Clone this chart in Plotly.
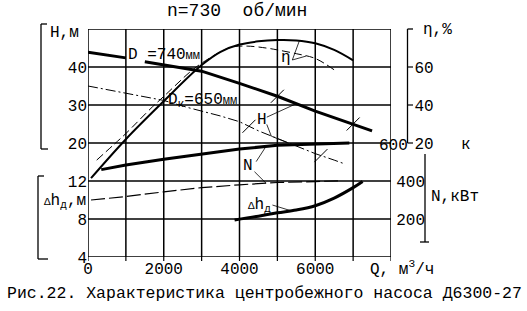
import numpy as np
import plotly.graph_objects as go

# ---------------- data ----------------
# Head, D = 740 mm (gap where the label sits)
q_h740 = [0, 1000, None, 1500, 2000, 3000, 4000, 5000, 6000, 7000, 7500]
h740 = [43.9, 42.4, None, 41.4, 40.6, 38.9, 35.7, 32.3, 28.4, 25.0, 23.2]

# Head, Dk = 650 mm
q_h650 = [0, 1000, 2000, 2650, 3000, 3500, 4000, 4500, 5000, 5500, 6000, 6500, 6750]
h650 = [35.0, 33.1, 31.2, 29.3, 28.4, 27.1, 25.6, 23.2, 21.2, 19.1, 17.2, 15.5, 14.6]

# Efficiency, D = 740 mm
q_eta740 = [80, 1000, 2000, 3000, 3500, 4000, 4500, 5000, 5500, 6000, 6500, 7000]
eta740 = [1.5, 22.0, 42.0, 61.0, 68.0, 71.8, 73.5, 74.2, 74.0, 72.5, 69.0, 63.5]

# Efficiency, Dk = 650 mm
q_eta650 = [230, 700, 1000, 1700, 2000, 2700, 3000, 3500, 3800, 4200, 4700, 5000, 5500, 6000, 6500]
eta650 = [11.0, 19.5, 25.0, 39.0, 44.5, 57.5, 62.0, 68.0, 70.5, 71.0, 70.0, 69.0, 67.0, 64.5, 58.5]

# Power, D = 740 mm
q_n740 = [350, 1000, 2000, 3000, 4000, 5000, 6000, 6900]
n740 = [460, 484, 514, 542, 568, 588, 596, 600]

# Power, Dk = 650 mm
q_n650 = [80, 1000, 2000, 3000, 4000, 5000, 6000, 6600]
n650 = [300, 318, 343, 365, 380, 392, 397, 401]

# NPSH (delta h)
q_dh = [3870, 4500, 5000, 5500, 6000, 6500, 7000, 7250]
dh = [7.9, 8.3, 8.65, 8.95, 9.4, 10.2, 11.3, 11.95]

# ticks
x_tickvals = [0, 1000, 2000, 3000, 4000, 5000, 6000, 7000, 8000]
x_ticktext = ["0", "", "2000", "", "4000", "", "6000", "", ""]
h_tickvals = [-10, 0, 10, 20, 30, 40, 50]
h_ticktext = ["", "", "", "20", "30", "40", ""]
dh_tickvals = [4, 8, 12]
eta_tickvals = [20, 40, 60]
n_tickvals = [200, 400]

# working-range marks on head curves (Q values)
marks_h740 = [5000, 7000]
marks_h650 = [4250, 6150]

# ---------------- helpers ----------------
W, Hh = 527, 311
FONT = "Liberation Mono"


def P(x, y):
    return x / W, 1 - y / Hh


def interp(qs, vs, q):
    pairs = [(a, b) for a, b in zip(qs, vs) if a is not None]
    return float(np.interp(q, [p[0] for p in pairs], [p[1] for p in pairs]))


fig = go.Figure()
blk = "black"

fig.add_trace(go.Scatter(x=q_h740, y=h740, mode="lines", line=dict(color=blk, width=3),
                         connectgaps=False, yaxis="y", hoverinfo="skip"))
fig.add_trace(go.Scatter(x=q_h650, y=h650, mode="lines",
                         line=dict(color=blk, width=1, dash="10px,3px,2px,3px"), yaxis="y", hoverinfo="skip"))
fig.add_trace(go.Scatter(x=q_eta740, y=eta740, mode="lines", line=dict(color=blk, width=2, shape="spline"),
                         yaxis="y3", hoverinfo="skip"))
fig.add_trace(go.Scatter(x=q_eta650, y=eta650, mode="lines",
                         line=dict(color=blk, width=1, dash="8px,4px", shape="spline"), yaxis="y3", hoverinfo="skip"))
fig.add_trace(go.Scatter(x=q_n740, y=n740, mode="lines", line=dict(color=blk, width=3), yaxis="y4", hoverinfo="skip"))
fig.add_trace(go.Scatter(x=q_n650, y=n650, mode="lines", line=dict(color=blk, width=1.2, dash="14px,4px"),
                         yaxis="y4", hoverinfo="skip"))
fig.add_trace(go.Scatter(x=q_dh, y=dh, mode="lines", line=dict(color=blk, width=3, shape="spline"),
                         yaxis="y2", hoverinfo="skip"))

# slash marks on head curves
for qs, vs, mk in ((q_h740, h740, marks_h740), (q_h650, h650, marks_h650)):
    fig.add_trace(go.Scatter(x=mk, y=[interp(qs, vs, q) for q in mk], mode="markers",
                             marker=dict(symbol="line-ne-open", size=13, color=blk,
                                         line=dict(color=blk, width=1)),
                             yaxis="y", hoverinfo="skip"))

# leader lines (label point -> point on curve)
leaders = [
    ("y", [(4720, 26.8)], q_h740, h740, 5500),
    ("y", [(4720, 24.9), (4840, 21.8)], q_h650, h650, 5300),
    ("y3", [(5395, 63.7)], q_eta740, eta740, 5580),
    ("y3", [(5395, 63.7)], q_eta650, eta650, 5755),
    ("y4", [(4440, 502)], q_n740, n740, 4700),
    ("y4", [(4395, 449)], q_n650, n650, 4700),
    ("y2", [(4870, 9.47)], q_dh, dh, 5360),
]
for ax, pts, cq, cv, tq in leaders:
    xs = [p[0] for p in pts] + [tq]
    ys = [p[1] for p in pts] + [interp(cq, cv, tq)]
    fig.add_trace(go.Scatter(x=xs, y=ys, mode="lines", line=dict(color=blk, width=0.8),
                             yaxis=ax, hoverinfo="skip"))

# ---------------- layout ----------------
xd = [88 / W, 391 / W]
yd = [1 - 257 / Hh, 1 - 29 / Hh]
tf = dict(family=FONT, size=16, color=blk)

fig.update_layout(
    width=W, height=Hh, margin=dict(l=0, r=0, t=0, b=0),
    paper_bgcolor="white", plot_bgcolor="white", showlegend=False,
    xaxis=dict(domain=xd, range=[0, 8000], tickvals=x_tickvals, ticktext=x_ticktext,
               showgrid=False, showline=False, ticks="", tickfont=tf, zeroline=False,
               automargin=False),
    yaxis=dict(domain=yd, range=[-10, 50], tickvals=h_tickvals, ticktext=h_ticktext,
               showgrid=False, showline=False, ticks="", tickfont=tf, zeroline=False,
               automargin=False),
    yaxis2=dict(overlaying="y", side="left", anchor="x", range=[4, 28], tickvals=dh_tickvals,
                showgrid=False, showline=False, ticks="", tickfont=tf, zeroline=False,
                automargin=False),
    yaxis3=dict(overlaying="y", side="right", anchor="free", position=407.5 / W, range=[-40, 80],
                tickvals=eta_tickvals, showgrid=False, showline=False, ticks="",
                ticklabelstandoff=6, tickfont=tf, zeroline=False, automargin=False),
    yaxis4=dict(overlaying="y", side="left", anchor="free", position=425 / W, range=[0, 1200],
                tickvals=n_tickvals, showgrid=False, showline=False, ticks="", tickfont=tf,
                zeroline=False, automargin=False),
)

# grid and frame drawn through the axes' own scales
for q in x_tickvals:
    fig.add_shape(type="line", xref="x", yref="paper", x0=q, x1=q, y0=yd[0], y1=yd[1],
                  line=dict(color=blk, width=1.5), layer="above")
    fig.add_shape(type="line", xref="x", yref="paper", x0=q, x1=q, y0=yd[0], y1=yd[0] - 4 / Hh,
                  line=dict(color=blk, width=1.2), layer="above")
for h in h_tickvals:
    fig.add_shape(type="line", xref="paper", yref="y", x0=xd[0], x1=xd[1], y0=h, y1=h,
                  line=dict(color=blk, width=1.5), layer="above")
for e in eta_tickvals:
    fig.add_shape(type="line", xref="paper", yref="y3", x0=407.5 / W, x1=413 / W, y0=e, y1=e,
                  line=dict(color=blk, width=1.2), layer="above")


# axis brackets / lines (decorations in paper coords)
def seg(x0, y0, x1, y1, w=1.3):
    a, b = P(x0, y0)
    c, d = P(x1, y1)
    fig.add_shape(type="line", xref="paper", yref="paper", x0=a, y0=b, x1=c, y1=d,
                  line=dict(color=blk, width=w), layer="above")


# H bracket
seg(41, 24, 47, 24); seg(41, 24, 41, 149); seg(41, 149, 48, 149)
# dh bracket
seg(38, 176, 44, 176); seg(38, 176, 38, 259); seg(38, 259, 48, 259)
# eta axis
seg(407.5, 29, 413, 29); seg(407.5, 29, 407.5, 143)
# N axis
seg(425, 154, 425, 242); seg(420, 242, 429, 242)


def ann(text, x, y, size=16, xanchor="center"):
    a, b = P(x, y)
    fig.add_annotation(text=text, x=a, y=b, xref="paper", yref="paper", showarrow=False,
                       xanchor=xanchor, yanchor="middle",
                       font=dict(family=FONT, size=size, color=blk))


ann("n=730\u00a0 об/мин", 237, 11, size=18)
ann("Рис.22. Характеристика центробежного насоса Д6300-27", 264, 293, size=16.5)
ann("H,м", 48, 33, xanchor="left")
ann("<span style='font-size:11px'>Δ</span>h<sub>д</sub>,м", 42, 201, xanchor="left")
ann("D =740<span style='font-size:12px'>мм</span>", 126, 55, xanchor="left")
ann("D<sub>к</sub>=650<span style='font-size:12px'>мм</span>", 166, 101, xanchor="left")
ann("H", 262, 120)
ann("η", 286, 58)
ann("N", 247.5, 166)
ann("<span style='font-size:11px'>Δ</span>h<sub>д</sub>", 259, 205)
ann("η,%", 421, 30, xanchor="left")
ann("600", 393, 146)
ann("к", 466, 145)
ann("N,кВт", 429, 197, xanchor="left")
ann("Q, м<sup>3</sup>/ч", 368, 268, xanchor="left")

fig.write_html("out.html")
